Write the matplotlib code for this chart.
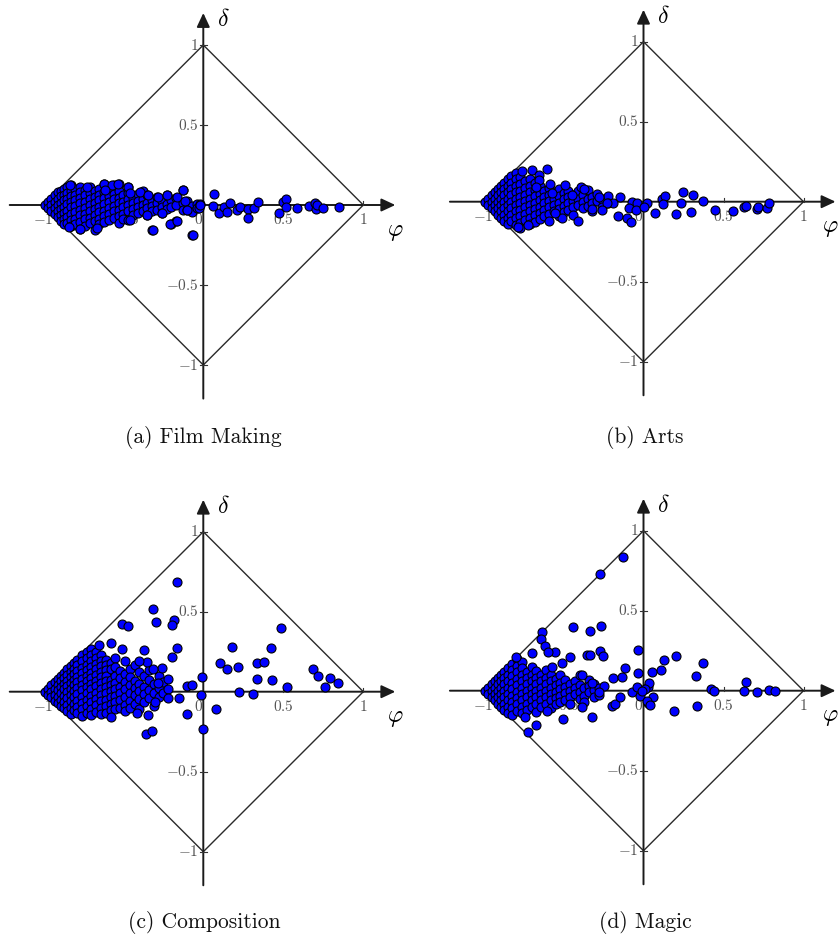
import matplotlib
matplotlib.use("Agg")
import matplotlib.pyplot as plt

plt.rcParams['mathtext.fontset'] = 'cm'

# dense part of each cloud: phi column -> delta values read in that column
film_core = {
    -0.99: [0.0], -0.97: [0.02, -0.02], -0.95: [0.04, 0.0, -0.035],
    -0.93: [0.06, 0.02, -0.02, -0.055], -0.91: [0.08, 0.04, 0.0, -0.04, -0.075],
    -0.89: [0.09, 0.055, 0.015, -0.025, -0.065, -0.1],
    -0.87: [0.1, 0.065, 0.03, -0.01, -0.05, -0.09, -0.12],
    -0.85: [0.11, 0.075, 0.04, 0.005, -0.035, -0.075, -0.11],
    -0.83: [0.125, 0.09, 0.055, 0.02, -0.015, -0.055, -0.095, -0.13],
    -0.80: [0.1, 0.065, 0.03, -0.005, -0.045, -0.085, -0.12],
    -0.77: [0.115, 0.08, 0.045, 0.01, -0.03, -0.065, -0.105, -0.15],
    -0.74: [0.095, 0.06, 0.02, -0.02, -0.055, -0.09, -0.13],
    -0.71: [0.11, 0.075, 0.035, 0.0, -0.04, -0.08, -0.115],
    -0.68: [0.09, 0.05, 0.015, -0.025, -0.06, -0.1, -0.155],
    -0.65: [0.1, 0.065, 0.03, -0.01, -0.045, -0.085, -0.12],
    -0.62: [0.13, 0.08, 0.045, 0.005, -0.035, -0.07, -0.105],
    -0.59: [0.095, 0.055, 0.02, -0.02, -0.055, -0.095],
    -0.56: [0.125, 0.07, 0.035, -0.005, -0.04, -0.08],
    -0.53: [0.13, 0.085, 0.045, 0.01, -0.03, -0.07, -0.11],
    -0.50: [0.06, 0.02, -0.015, -0.055, -0.09],
    -0.47: [0.115, 0.075, 0.035, 0.0, -0.04, -0.095],
    -0.44: [0.045, 0.01, -0.025, -0.06], -0.41: [0.07, 0.025, -0.01, -0.05],
    -0.38: [0.085, 0.04, 0.0, -0.035], -0.35: [0.06, 0.015, -0.02, -0.065],
    -0.32: [0.03, -0.005, -0.04, -0.155], -0.29: [0.05, 0.01, -0.03],
    -0.26: [0.025, -0.01, -0.05], -0.23: [0.06, 0.005, -0.025],
    -0.20: [0.03, -0.015, -0.12], -0.17: [0.045, 0.0, -0.1],
    -0.13: [0.095, 0.01, -0.03], -0.10: [0.025, -0.03],
    -0.07: [-0.005, -0.045, -0.19], -0.04: [0.005, -0.02],
}
film_spread = [
    (-0.833, 0.125), (-0.725, 0.115), (-0.62, 0.131), (-0.573, 0.125), (-0.531, 0.129),
    (-0.469, 0.115), (-0.614, 0.094), (-0.458, 0.077), (-0.396, 0.083), (-0.344, 0.0625),
    (-0.125, 0.094), (-0.281, 0.052), (-0.229, 0.0625), (-0.166, 0.048), (-0.114, 0.027),
    (-0.02, 0.004), (-0.77, -0.152), (-0.666, -0.146), (-0.3125, -0.156), (-0.208, -0.119),
    (-0.166, -0.098), (-0.0625, -0.1875), (-0.458, -0.094), (-0.354, -0.0625),
    (-0.26, -0.052), (-0.104, -0.031), (-0.03, -0.02), (-0.84, -0.14),
    (0.067, 0.067), (0.0625, -0.006), (0.1, -0.052), (0.129, -0.01), (0.15, -0.046),
    (0.167, 0.01), (0.212, -0.03), (0.229, -0.015), (0.281, -0.027), (0.281, -0.083),
    (0.317, -0.021), (0.344, 0.017), (0.475, -0.052), (0.5, 0.021), (0.517, 0.035),
    (0.517, -0.01), (0.583, -0.021), (0.662, -0.006), (0.698, 0.01), (0.704, -0.025),
    (0.713, 0.0), (0.75, -0.017), (0.85, -0.01), (-0.02, 0.0),
]

arts_core = {
    -0.99: [0.0], -0.97: [0.02, -0.02], -0.95: [0.04, 0.0, -0.04],
    -0.93: [0.06, 0.02, -0.02, -0.06], -0.91: [0.08, 0.04, 0.0, -0.04, -0.08],
    -0.89: [0.1, 0.06, 0.02, -0.02, -0.06, -0.1],
    -0.87: [0.12, 0.08, 0.04, 0.0, -0.04, -0.08, -0.12],
    -0.85: [0.14, 0.1, 0.06, 0.02, -0.02, -0.06, -0.1, -0.14],
    -0.83: [0.16, 0.12, 0.08, 0.04, 0.0, -0.04, -0.08, -0.12],
    -0.80: [0.18, 0.14, 0.1, 0.06, 0.02, -0.02, -0.06, -0.1, -0.145],
    -0.77: [0.155, 0.11, 0.07, 0.03, -0.01, -0.05, -0.09, -0.13, -0.165],
    -0.74: [0.13, 0.085, 0.045, 0.005, -0.035, -0.075, -0.115],
    -0.71: [0.145, 0.1, 0.06, 0.02, -0.02, -0.06, -0.1, -0.14],
    -0.68: [0.12, 0.075, 0.035, -0.005, -0.045, -0.085, -0.125],
    -0.65: [0.1, 0.05, 0.01, -0.03, -0.07, -0.11],
    -0.62: [0.07, 0.03, -0.01, -0.05, -0.09],
    -0.59: [0.085, 0.045, 0.005, -0.035, -0.075, -0.12],
    -0.56: [0.06, 0.02, -0.02, -0.06], -0.53: [0.08, 0.035, -0.005, -0.045, -0.09],
    -0.50: [0.055, 0.015, -0.025, -0.065], -0.47: [0.07, 0.03, -0.01, -0.05],
    -0.44: [0.045, 0.005, -0.035, -0.08], -0.41: [0.065, 0.02, -0.02],
    -0.38: [0.04, 0.0, -0.04], -0.35: [0.075, 0.015, -0.025],
    -0.32: [0.03, -0.01, -0.06], -0.29: [0.05, 0.005], -0.26: [0.02, -0.03],
    -0.22: [0.035, -0.01],
}
arts_spread = [
    (-0.761, 0.194), (-0.695, 0.198), (-0.653, 0.167), (-0.605, 0.202), (-0.584, 0.11),
    (-0.49, 0.104), (-0.39, 0.094), (-0.375, 0.077), (-0.653, 0.135), (-0.67, 0.09),
    (-0.574, 0.052), (-0.449, 0.042), (-0.278, 0.031), (-0.147, 0.031), (-0.189, -0.006),
    (-0.23, -0.006), (-0.074, 0.0), (-0.04, -0.006), (0.02, -0.006),
    (-0.407, -0.119), (-0.51, -0.104), (-0.324, -0.048), (-0.257, -0.052),
    (-0.161, -0.09), (-0.105, -0.104), (-0.078, -0.125), (-0.09, -0.042), (-0.05, -0.05),
    (0.0, -0.031), (-0.72, -0.146), (-0.782, -0.16), (-0.553, -0.073),
    (0.072, -0.069), (0.114, 0.015), (0.134, 0.035), (0.124, -0.015), (0.203, -0.079),
    (0.232, -0.01), (0.249, 0.0625), (0.295, -0.0625), (0.311, 0.042), (0.37, 0.004),
    (0.447, -0.052), (0.557, -0.058), (0.63, -0.035), (0.64, -0.027), (0.708, -0.048),
    (0.718, -0.031), (0.774, -0.042), (0.784, -0.01),
]

comp_core = {
    -0.99: [0.0], -0.97: [0.02, -0.02], -0.95: [0.04, 0.0, -0.035],
    -0.93: [0.06, 0.02, -0.02, -0.06], -0.91: [0.08, 0.045, 0.01, -0.03, -0.07],
    -0.89: [0.1, 0.065, 0.03, -0.01, -0.05, -0.09],
    -0.87: [0.12, 0.085, 0.05, 0.015, -0.025, -0.065, -0.1],
    -0.85: [0.14, 0.105, 0.07, 0.035, 0.0, -0.04, -0.08, -0.12],
    -0.83: [0.16, 0.125, 0.09, 0.055, 0.02, -0.02, -0.06, -0.1, -0.14],
    -0.81: [0.18, 0.145, 0.11, 0.075, 0.04, 0.005, -0.035, -0.075, -0.115],
    -0.79: [0.2, 0.165, 0.13, 0.095, 0.06, 0.025, -0.015, -0.055, -0.095, -0.135],
    -0.76: [0.23, 0.19, 0.15, 0.115, 0.08, 0.045, 0.01, -0.03, -0.07, -0.11, -0.15],
    -0.73: [0.25, 0.21, 0.17, 0.135, 0.1, 0.065, 0.03, -0.01, -0.05, -0.09, -0.13],
    -0.70: [0.27, 0.23, 0.19, 0.155, 0.12, 0.085, 0.05, 0.015, -0.025, -0.065, -0.105, -0.145],
    -0.67: [0.25, 0.21, 0.175, 0.14, 0.105, 0.07, 0.035, -0.005, -0.045, -0.085, -0.125],
    -0.64: [0.23, 0.195, 0.16, 0.125, 0.09, 0.055, 0.02, -0.02, -0.06, -0.1, -0.14],
    -0.61: [0.2, 0.17, 0.135, 0.1, 0.065, 0.03, -0.01, -0.05, -0.09, -0.13],
    -0.58: [0.18, 0.14, 0.075, 0.04, 0.005, -0.035, -0.075, -0.115],
    -0.55: [0.21, 0.155, 0.1, 0.055, 0.015, -0.025, -0.065, -0.11],
    -0.52: [0.13, 0.085, 0.03, -0.01, -0.05, -0.1],
    -0.49: [0.19, 0.11, 0.06, 0.02, -0.03, -0.08, -0.12],
    -0.46: [0.145, 0.09, 0.04, -0.005, -0.06, -0.1],
    -0.43: [0.17, 0.07, 0.025, -0.02, -0.075], -0.40: [0.125, 0.05, 0.005, -0.045, -0.11],
    -0.37: [0.1, 0.03, -0.015, -0.065], -0.34: [0.135, 0.075, 0.01, -0.04],
    -0.31: [0.05, -0.01, -0.09], -0.28: [0.1, 0.025, -0.03], -0.25: [0.06, -0.005],
    -0.22: [0.08, 0.02, -0.04],
}
comp_spread = [
    (-0.167, 0.6875), (-0.3125, 0.515), (-0.296, 0.433), (-0.183, 0.448), (-0.198, 0.417),
    (-0.51, 0.421), (-0.469, 0.4125), (-0.167, 0.271), (-0.198, 0.215), (-0.37, 0.26),
    (-0.51, 0.265), (-0.579, 0.302), (-0.652, 0.29), (-0.01, 0.094), (-0.104, 0.0375),
    (-0.069, 0.042), (-0.015, -0.02), (-0.15, -0.042), (-0.104, -0.142), (0.0, -0.233),
    (-0.358, -0.267), (-0.319, -0.246), (-0.344, -0.146), (-0.417, -0.135),
    (-0.577, -0.156), (-0.302, -0.0625), (-0.285, 0.056), (-0.258, 0.146),
    (-0.315, 0.14), (-0.35, 0.1875), (-0.40, 0.194),
    (0.483, 0.4), (0.177, 0.281), (0.423, 0.271), (0.104, 0.181), (0.15, 0.142),
    (0.219, 0.152), (0.333, 0.177), (0.381, 0.183), (0.333, 0.079), (0.427, 0.073),
    (0.525, 0.031), (0.225, 0.0), (0.313, -0.017), (0.079, -0.11),
    (0.683, 0.142), (0.718, 0.1), (0.79, 0.083), (0.76, 0.031), (0.84, 0.052),
]

magic_core = {
    -0.99: [0.0], -0.97: [0.02, -0.02], -0.95: [0.04, 0.0, -0.04],
    -0.93: [0.06, 0.02, -0.02, -0.06], -0.91: [0.08, 0.04, 0.0, -0.04, -0.08],
    -0.89: [0.1, 0.06, 0.02, -0.02, -0.06, -0.1],
    -0.87: [0.12, 0.08, 0.04, 0.0, -0.04, -0.08, -0.12],
    -0.85: [0.14, 0.1, 0.06, 0.02, -0.02, -0.06, -0.1, -0.14],
    -0.82: [0.17, 0.13, 0.09, 0.05, 0.01, -0.03, -0.07, -0.11, -0.15],
    -0.79: [0.2, 0.155, 0.115, 0.075, 0.035, -0.005, -0.045, -0.085, -0.125],
    -0.76: [0.18, 0.14, 0.1, 0.06, 0.02, -0.02, -0.06, -0.1, -0.14],
    -0.73: [0.12, 0.08, 0.04, 0.0, -0.04, -0.08, -0.12],
    -0.70: [0.15, 0.1, 0.06, 0.02, -0.02, -0.06, -0.1],
    -0.67: [0.125, 0.08, 0.04, 0.0, -0.04, -0.085, -0.13],
    -0.64: [0.1, 0.06, 0.02, -0.02, -0.06, -0.1],
    -0.61: [0.13, 0.08, 0.04, 0.0, -0.04, -0.08],
    -0.58: [0.1, 0.06, 0.02, -0.02, -0.06, -0.11],
    -0.55: [0.075, 0.035, -0.005, -0.045, -0.085],
    -0.52: [0.1, 0.05, 0.01, -0.03, -0.07], -0.49: [0.065, 0.025, -0.015, -0.055],
    -0.46: [0.04, 0.0, -0.04, -0.08], -0.43: [0.06, 0.02, -0.02],
    -0.40: [0.1, 0.035, -0.005, -0.05], -0.37: [0.015, -0.03, -0.07],
    -0.34: [0.07, 0.03, -0.01], -0.31: [0.045, 0.005, -0.04], -0.28: [0.02, -0.025],
    -0.25: [0.03],
}
magic_spread = [
    (-0.126, 0.8375), (-0.272, 0.727), (-0.439, 0.396), (-0.334, 0.375), (-0.266, 0.404),
    (-0.636, 0.369), (-0.64, 0.323), (-0.616, 0.279), (-0.553, 0.244), (-0.595, 0.244),
    (-0.695, 0.233), (-0.795, 0.208), (-0.459, 0.208), (-0.355, 0.223), (-0.335, 0.223),
    (-0.272, 0.25), (-0.251, 0.217), (-0.036, 0.254), (-0.116, 0.144), (-0.036, 0.108),
    (-0.189, 0.077), (-0.137, 0.0875), (-0.511, 0.175), (-0.57, 0.15), (-0.386, 0.098),
    (-0.324, 0.046), (-0.28, -0.006), (-0.199, -0.094), (-0.18, -0.085), (-0.147, -0.042),
    (-0.386, -0.1), (-0.324, -0.1625), (-0.505, -0.179), (-0.672, -0.215),
    (-0.724, -0.256), (-0.74, -0.167), (-0.606, -0.125), (-0.074, -0.006),
    (-0.042, 0.025), (0.03, 0.025), (0.03, -0.079), (-0.02, -0.03),
    (0.201, 0.219), (0.13, 0.192), (0.107, 0.131), (0.051, 0.119), (0.036, 0.046),
    (0.01, 0.01), (-0.01, 0.0), (0.061, -0.0375), (0.024, -0.0625), (0.041, -0.0875),
    (0.193, -0.129), (0.333, -0.098), (0.326, 0.092), (0.37, 0.171), (0.422, 0.01),
    (0.44, -0.004), (0.64, 0.052), (0.63, 0.0), (0.708, -0.006), (0.786, 0.006),
    (0.822, 0.0),
]

captions = ['(a) Film Making', '(b) Arts', '(c) Composition', '(d) Magic']
# pixel position of each panel's origin, and of its caption
origins = [(203.3, 205.0), (643.5, 201.7), (203.3, 691.7), (643.5, 690.7)]
caption_pos = [(203, 437), (645, 437), (204, 922), (645, 922)]
phi_label_x = [1.2, 1.165, 1.2, 1.165]
unit = 160.0
W, H = 839.0, 938.0


def expand(core, spread):
    phi, delta = [], []
    for p, ds in core.items():
        for d in ds:
            phi.append(p)
            delta.append(d)
    for p, d in spread:
        phi.append(p)
        delta.append(d)
    return phi, delta


def draw_panel(fig, origin, phi, delta, lab_x):
    ox, oy = origin
    half = 1.3 * unit
    ax = fig.add_axes([(ox - half) / W, (H - oy - half) / H, 2 * half / W, 2 * half / H])
    ax.set_xlim(-1.3, 1.3)
    ax.set_ylim(-1.3, 1.3)
    ax.axis('off')

    ax.plot([-1, 0, 1, 0, -1], [0, 1, 0, -1, 0], color='#2a2a2a', lw=1.0, zorder=1)
    arrow = dict(arrowstyle='-|>,head_length=0.6,head_width=0.28', color='#1a1a1a',
                 lw=1.4, mutation_scale=14, shrinkA=0, shrinkB=0)
    ax.annotate('', xy=(1.2, 0), xytext=(-1.21, 0), arrowprops=arrow, zorder=1)
    ax.annotate('', xy=(0, 1.2), xytext=(0, -1.21), arrowprops=arrow, zorder=1)

    for t in [-1, -0.5, 0.5, 1]:
        ax.plot([t, t], [0, 0.025], color='#333', lw=0.8, zorder=1)
        ax.plot([-0.02, 0.02], [t, t], color='#333', lw=0.8, zorder=1)

    xlabels = {-1: '$-1$', -0.5: '$-0.5$', 0: '$0$', 0.5: '$0.5$', 1: '$1$'}
    for t, s in xlabels.items():
        x = t - 0.03 if t == 0 else t
        ax.text(x, -0.09, s, ha='center', va='center', fontsize=11, color='#555', zorder=2)
    ylabels = {1: '$1$', 0.5: '$0.5$', -0.5: '$-0.5$', -1: '$-1$'}
    for t, s in ylabels.items():
        ax.text(-0.03, t, s, ha='right', va='center', fontsize=11, color='#555', zorder=2)

    ax.text(0.125, 1.16, r'$\delta$', fontsize=17, ha='center', va='center')
    ax.text(lab_x, -0.16, r'$\varphi$', fontsize=17, ha='center', va='center', clip_on=False)

    ax.scatter(phi, delta, s=42, c='#0000ff', edgecolors='black', linewidths=0.8,
               zorder=3, clip_on=False)
    return ax


fig = plt.figure(figsize=(W / 100, H / 100), dpi=100)
data = [expand(film_core, film_spread), expand(arts_core, arts_spread),
        expand(comp_core, comp_spread), expand(magic_core, magic_spread)]
for (phi, delta), origin, cap, cpos, lx in zip(data, origins, captions, caption_pos, phi_label_x):
    draw_panel(fig, origin, phi, delta, lx)
    fig.text(cpos[0] / W, 1 - cpos[1] / H, cap, ha='center', va='center',
             fontsize=15.5, family='cmr10', color='#111')

fig.savefig('out.png', dpi=100)
